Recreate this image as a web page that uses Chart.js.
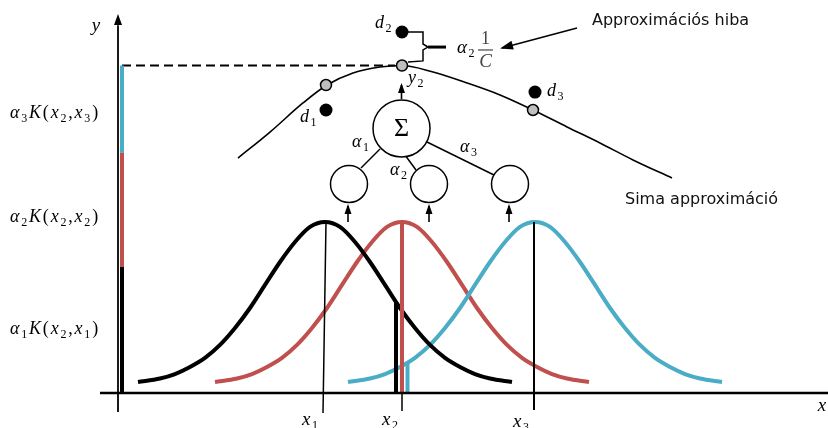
<!DOCTYPE html>
<html>
<head>
<meta charset="utf-8">
<script src="https://cdn.jsdelivr.net/npm/chart.js@4"></script>
<style>
  html, body { margin: 0; padding: 0; background: #fff; overflow: hidden; }
  canvas { display: block; }
</style>
</head>
<body>
<canvas id="chart" width="828" height="428"></canvas>
<script>
// ================================================================
// DATA  (diagram units: x = input space, y = kernel value, peak = 1)
// ================================================================
const kernelNames   = ['x_1', 'x_2', 'x_3'];
const kernelCenters = [2.06, 2.83, 4.16];
const kernelOffsets = [0, 0.15, 0.30, 0.45, 0.60, 0.75, 0.90, 1.05, 1.20, 1.35, 1.50, 1.65, 1.87];
const kernelHeights = [1.000, 0.971, 0.883, 0.766, 0.632, 0.497, 0.380, 0.281, 0.205, 0.152, 0.111, 0.085, 0.064];

// K(x2, xi) read at x2, and the weighted parts alpha_i K(x2, xi) stacked on the y axis
const valuesAtX2    = [0.532, 1.000, 0.175];
const valuesAtX2Pos = [2.77, 2.83, 2.885];
const stackValues   = [0.737, 0.667, 0.511];
const stackLabels   = ['α_1K(x_2,x_1)', 'α_2K(x_2,x_2)', 'α_3K(x_2,x_3)'];

// smooth approximation
const approxX = [1.19, 1.51, 1.84, 2.08, 2.34, 2.61, 2.83, 3.14, 3.48, 3.81, 4.14, 4.48, 4.81, 5.14, 5.53];
const approxY = [1.374, 1.526, 1.696, 1.801, 1.871, 1.906, 1.915, 1.877, 1.813, 1.743, 1.655, 1.556, 1.462, 1.363, 1.257];

// y_i on the curve and the measured d_i
const fitX  = [2.07, 2.83, 4.14];
const fitY  = [1.801, 1.915, 1.655];
const dataX = [2.07, 2.83, 4.16];
const dataY = [1.655, 2.111, 1.760];

const COLORS = ['#000000', '#c0504d', '#4bacc6'];

// layout of the frame (pixels of the original picture)
const W = 828, H = 428, ORIGIN_X = 119, ORIGIN_Y = 393, PX_X = 100, PX_Y = 171;

// ================================================================
// NETWORK SKETCH (diagram units)
// ================================================================
const sumNode    = { x: 2.825, y: 1.547, r: 28.5 };
const kernelNodes = [{ x: 2.30, y: 1.222 }, { x: 3.10, y: 1.222 }, { x: 3.91, y: 1.222 }];
const links = [
    [[2.61, 1.427], [2.42, 1.316]],
    [[2.86, 1.392], [2.97, 1.304]],
    [[3.08, 1.468], [3.75, 1.275]]
];
const arrows = [
    { from: [-0.01, 2.10],  to: [-0.01, 2.205], len: 9, half: 4 },
    { from: [2.825, 1.719], to: [2.825, 1.801], len: 8, half: 3.5 },
    { from: [2.29, 1.0],   to: [2.29, 1.094], len: 8, half: 3.5 },
    { from: [3.10, 1.0],   to: [3.10, 1.094], len: 8, half: 3.5 },
    { from: [3.90, 1.0],   to: [3.90, 1.094], len: 8, half: 3.5 },
    { from: [4.58, 2.135], to: [3.83, 2.018], len: 11, half: 4.5 }
];
const brace = [[2.89, 2.111], [3.04, 2.111], [3.04, 2.041], [3.09, 2.023], [3.04, 2.006], [3.04, 1.942], [2.89, 1.936]];
const braceTip = [[3.09, 2.023], [3.27, 2.023]];

// labels: [text, x, y, size, align, gap]
const mathLabels = [
    ['y', -0.23, 2.117, 19, 'center'],
    ['x', 7.03, -0.105, 19, 'center'],
    [stackLabels[2], -1.09, 1.608, 18, 'left', 0.1],
    [stackLabels[1], -1.09, 1.000, 18, 'left', 0.1],
    [stackLabels[0], -1.09, 0.345, 18, 'left', 0.1],
    ['x_1', 1.83, -0.187, 19, 'left'],
    ['x_2', 2.63, -0.187, 19, 'left'],
    ['x_3', 3.94, -0.199, 19, 'left'],
    ['d_1', 1.81, 1.585, 18, 'left'],
    ['d_2', 2.56, 2.135, 18, 'left'],
    ['d_3', 4.28, 1.737, 18, 'left'],
    ['y_2', 2.89, 1.813, 18, 'left'],
    ['α_1', 2.33, 1.439, 18, 'left'],
    ['α_2', 2.71, 1.275, 18, 'left'],
    ['α_3', 3.41, 1.409, 18, 'left'],
    ['α_2', 3.38, 1.988, 19, 'left']
];
const textLabels = [
    ['Approximációs hiba', 4.73, 2.175],
    ['Sima approximáció', 5.06, 1.129]
];

// ================================================================
// DATASETS
// ================================================================
function kernelCurve(c) {
    const pts = [];
    for (let i = kernelOffsets.length - 1; i > 0; i--) pts.push({ x: c - kernelOffsets[i], y: kernelHeights[i] });
    for (let i = 0; i < kernelOffsets.length; i++) pts.push({ x: c + kernelOffsets[i], y: kernelHeights[i] });
    return pts;
}
const seg = (a, b) => [{ x: a[0], y: a[1] }, { x: b[0], y: b[1] }];
const line = (data, color, width, extra) => ({ data, showLine: true, borderColor: color, borderWidth: width, pointRadius: 0, fill: false, borderCapStyle: 'butt', ...extra });

const datasets = [];   // back to front
const yTop = stackValues.reduce((a, b) => a + b, 0);
datasets.push(line(seg([0.03, yTop], [2.76, yTop]), '#000', 2, { borderDash: [9, 5] }));
[1, 2, 0].forEach(i => datasets.push(line(kernelCurve(kernelCenters[i]), COLORS[i], 4, { cubicInterpolationMode: 'monotone' })));
datasets.push(line(seg([2.04, -0.117], [kernelCenters[0] + 0.01, 1.0]), '#000', 1.5));
datasets.push(line(seg([4.15, -0.099], [4.15, 1.0]), '#000', 2));
datasets.push(line(seg([kernelCenters[1], 0], [kernelCenters[1], -0.105]), '#000', 1.5));
valuesAtX2.forEach((v, i) => datasets.push(line(seg([valuesAtX2Pos[i], 0], [valuesAtX2Pos[i], v]), COLORS[i], 4)));
datasets.push(line(seg([-0.19, 0], [7.09, 0]), '#000', 2.5));
datasets.push(line(seg([-0.01, -0.111], [-0.01, 2.15]), '#000', 1.8));
let acc = 0;
stackValues.forEach((v, i) => { datasets.push(line(seg([0.03, acc], [0.03, acc + v]), COLORS[i], 4)); acc += v; });
datasets.push(line(approxX.map((x, i) => ({ x, y: approxY[i] })), '#000', 1.6, { cubicInterpolationMode: 'monotone' }));
links.forEach(l => datasets.push(line(seg(l[0], l[1]), '#000', 1.5)));
arrows.slice(1).forEach(a => datasets.push(line(seg(a.from, a.to), '#000', 1.6)));
datasets.push(line(brace.map(p => ({ x: p[0], y: p[1] })), '#000', 1.5));
datasets.push(line(seg(braceTip[0], braceTip[1]), '#000', 3));
const node = (pts, r) => ({ data: pts, showLine: false, pointRadius: r, pointBackgroundColor: '#fff', pointBorderColor: '#000', pointBorderWidth: 1.5 });
datasets.push(node([sumNode], sumNode.r));
datasets.push(node(kernelNodes, 18.5));
datasets.push({ data: fitX.map((x, i) => ({ x, y: fitY[i] })), showLine: false, pointRadius: 5.5, pointBackgroundColor: '#bfbfbf', pointBorderColor: '#000', pointBorderWidth: 1.5 });
datasets.push({ data: dataX.map((x, i) => ({ x, y: dataY[i] })), showLine: false, pointRadius: 6.5, pointBackgroundColor: '#000', pointBorderColor: '#000', pointBorderWidth: 0 });
datasets.forEach((d, i) => { d.order = datasets.length - i; d.clip = false; });

// ================================================================
// TEXT + ARROWHEADS
// ================================================================
function parseMath(s) {
    const out = [];
    for (let i = 0; i < s.length; i++) {
        if (s[i] === '_') { out.push([s[++i], 's']); continue; }
        out.push([s[i], /[A-Za-zα-ω]/.test(s[i]) ? 'i' : 'r']);
    }
    return out;
}
function drawMath(ctx, str, x, y, size, align, gapK) {
    const parts = parseMath(str);
    const font = k => k === 'i' ? `italic ${size}px "Liberation Serif"` : k === 's' ? `${Math.round(size * 0.64)}px "Liberation Serif"` : `${size}px "Liberation Serif"`;
    const gap = size * (gapK || 0.08);
    const widths = parts.map(([t, k]) => { ctx.font = font(k); return ctx.measureText(t).width; });
    const total = widths.reduce((a, b) => a + b + gap, -gap);
    let cx = align === 'center' ? x - total / 2 : x;
    parts.forEach(([t, k], i) => {
        ctx.font = font(k);
        ctx.fillText(t, cx, k === 's' ? y + size * 0.2 : y);
        cx += widths[i] + gap;
    });
}

const annotate = {
    id: 'annotate',
    afterDatasetsDraw(chart) {
        const { ctx, scales: { x, y } } = chart;
        const px = v => x.getPixelForValue(v), py = v => y.getPixelForValue(v);
        ctx.save();
        ctx.fillStyle = '#000';
        // arrowheads
        arrows.forEach(a => {
            const x0 = px(a.from[0]), y0 = py(a.from[1]), x1 = px(a.to[0]), y1 = py(a.to[1]);
            const d = Math.hypot(x1 - x0, y1 - y0), ux = (x1 - x0) / d, uy = (y1 - y0) / d;
            ctx.beginPath();
            ctx.moveTo(x1 + ux * 2, y1 + uy * 2);
            ctx.lineTo(x1 - ux * a.len - uy * a.half, y1 - uy * a.len + ux * a.half);
            ctx.lineTo(x1 - ux * a.len + uy * a.half, y1 - uy * a.len - ux * a.half);
            ctx.closePath(); ctx.fill();
        });
        // math labels
        ctx.textBaseline = 'alphabetic';
        ctx.textAlign = 'left';
        mathLabels.forEach(([t, lx, ly, s, al, g]) => drawMath(ctx, t, px(lx), py(ly), s, al, g));
        // 1 / C fraction
        ctx.fillStyle = '#444';
        drawMath(ctx, '1', px(3.665), py(2.041), 18, 'center');
        drawMath(ctx, 'C', px(3.665), py(1.906), 19, 'center');
        ctx.strokeStyle = '#444'; ctx.lineWidth = 1.2;
        ctx.beginPath(); ctx.moveTo(px(3.59), py(2.006)); ctx.lineTo(px(3.74), py(2.006)); ctx.stroke();
        // sum sign
        ctx.fillStyle = '#000';
        ctx.font = '26px "Liberation Serif"';
        ctx.textAlign = 'center'; ctx.textBaseline = 'middle';
        ctx.fillText('Σ', px(sumNode.x), py(sumNode.y) + 1);
        // captions
        ctx.textAlign = 'left';
        ctx.fillStyle = '#111';
        ctx.font = '16px "DejaVu Sans"';
        textLabels.forEach(([t, lx, ly]) => ctx.fillText(t, px(lx), py(ly)));
        ctx.restore();
    }
};

new Chart(document.getElementById('chart'), {
    type: 'scatter',
    data: { datasets },
    options: {
        responsive: false,
        animation: false,
        events: [],
        layout: { padding: 0, autoPadding: false },
        plugins: { legend: { display: false }, tooltip: { enabled: false } },
        scales: {
            x: { type: 'linear', display: false, min: -ORIGIN_X / PX_X, max: (W - ORIGIN_X) / PX_X },
            y: { type: 'linear', display: false, min: -(H - ORIGIN_Y) / PX_Y, max: ORIGIN_Y / PX_Y }
        }
    },
    plugins: [annotate]
});
</script>
</body>
</html>
